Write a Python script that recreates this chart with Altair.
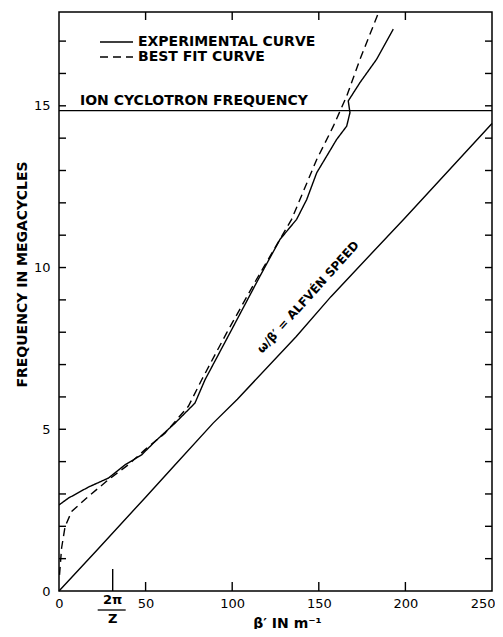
import altair as alt
import pandas as pd

# ---- data ----
SERIES = ["EXPERIMENTAL CURVE", "BEST FIT CURVE"]

EXP_X = [0, 5.4, 16.9, 28.5, 38.1, 47.7, 55.4, 67, 78.5, 84.3, 98.7, 116, 127.6,
         137.2, 143, 148.8, 160.3, 166.1, 168, 167, 173.8, 183.4, 193]
EXP_Y = [2.66, 2.87, 3.21, 3.49, 3.90, 4.21, 4.62, 5.19, 5.81, 6.53, 7.98, 9.73, 10.87,
         11.49, 12.1, 12.93, 13.96, 14.37, 14.79, 15.15, 15.72, 16.44, 17.37]

FIT_X = [0.3, 1.5, 3.5, 7.3, 16.9, 28.5, 40, 49.7, 61.2, 74.7, 82.4, 96.8, 114,
         134.3, 148.8, 158.4, 166.1, 173.8, 185.3, 187.5]
FIT_Y = [0.5, 1.33, 1.99, 2.46, 2.92, 3.44, 3.9, 4.37, 4.88, 5.71, 6.53, 7.98, 9.63,
         11.49, 13.34, 14.37, 15.3, 16.44, 17.99, 18.3]

ALF_X = [0, 22, 50, 66, 89, 103, 137, 157, 200, 250]
ALF_Y = [0, 1.27, 2.9, 3.84, 5.19, 5.93, 7.87, 9.1, 11.55, 14.45]

ION_FREQ = [14.85]
ION_LABEL = ["ION CYCLOTRON FREQUENCY"]
ALF_LABEL = ["ω/β′ = ALFVÉN SPEED"]
TWO_PI_OVER_Z = [31]

X_TICKS = [0, 50, 100, 150, 200, 250]
X_INNER_TICKS = [50, 100, 150, 200]
Y_TICKS = list(range(0, 18))
Y_LABELS = [0, 5, 10, 15]
X_DOMAIN = [0, 250]
Y_DOMAIN = [0, 17.9]
DASHES = [[1, 0], [8, 5]]

W, H = 433, 579
FONT = "DejaVu Sans"

curves = pd.DataFrame({
    "x": EXP_X + FIT_X,
    "y": EXP_Y + FIT_Y,
    "series": [SERIES[0]] * len(EXP_X) + [SERIES[1]] * len(FIT_X),
    "order": list(range(len(EXP_X))) + list(range(len(FIT_X))),
})
alf = pd.DataFrame({"x": ALF_X, "y": ALF_Y})
ion = pd.DataFrame({"y": ION_FREQ, "label": ION_LABEL})
alf_lab = pd.DataFrame({"label": ALF_LABEL})
tpz = pd.DataFrame({"x": TWO_PI_OVER_Z})
leg = pd.DataFrame({"series": SERIES})

xs = alt.Scale(domain=X_DOMAIN, nice=False, zero=False)
ys = alt.Scale(domain=Y_DOMAIN, nice=False, zero=False)
dash_scale = alt.Scale(domain=SERIES, range=DASHES)

X_AXIS = alt.Axis(
    orient="bottom", values=X_TICKS, ticks=False, tickSize=0, domain=False, grid=False,
    labelPadding=6, labelFontSize=13, labelFont=FONT, labelColor="black",
    labelFlush=False,
    labelAlign={"condition": {"test": "datum.value === 250", "value": "right"},
                "value": "center"},
    labelOffset={"condition": {"test": "datum.value === 250", "value": 3},
                 "value": 0},
    title="β′ IN m⁻¹", titleFont=FONT, titleFontSize=14, titleFontWeight="bold",
    titleX=228, titleY=32, titleBaseline="middle", titleAlign="center",
    titleColor="black")
Y_AXIS = alt.Axis(
    orient="left", values=Y_LABELS, ticks=False, tickSize=0, domain=False, grid=False,
    labelPadding=9, labelFontSize=13, labelFont=FONT, labelColor="black",
    labelFlush=False,
    title="FREQUENCY IN MEGACYCLES", titleFont=FONT, titleFontSize=14,
    titleFontWeight="bold", titleX=-37, titleY=262, titleAngle=270,
    titleAlign="center", titleBaseline="middle", titleColor="black")


def X(field="x:Q"):
    return alt.X(field, scale=xs, axis=X_AXIS)


def Y(field="y:Q"):
    return alt.Y(field, scale=ys, axis=Y_AXIS)


lines = alt.Chart(curves).mark_line(color="black", strokeWidth=1.4, clip=True).encode(
    x=X(), y=Y(),
    strokeDash=alt.StrokeDash("series:N", scale=dash_scale, legend=None),
    order="order:Q",
)

alfven = alt.Chart(alf).mark_line(color="black", strokeWidth=1.4).encode(x=X(), y=Y())

# inward ticks on all four sides, one small rule per tick value (placed by the scales)
tick_layers = []
for v in X_INNER_TICKS:
    d = pd.DataFrame({"x": [v]})
    tick_layers.append(alt.Chart(d).mark_rule(color="black", strokeWidth=1.4).encode(
        x=X(), y=alt.value(H), y2=alt.value(H - 9)))
    tick_layers.append(alt.Chart(d).mark_rule(color="black", strokeWidth=1.4).encode(
        x=X(), y=alt.value(0), y2=alt.value(8)))
for v in Y_TICKS[1:]:
    d = pd.DataFrame({"y": [v]})
    tick_layers.append(alt.Chart(d).mark_rule(color="black", strokeWidth=1.4).encode(
        y=Y(), x=alt.value(0), x2=alt.value(7)))
    tick_layers.append(alt.Chart(d).mark_rule(color="black", strokeWidth=1.4).encode(
        y=Y(), x=alt.value(W - 7), x2=alt.value(W)))

# legend drawn as annotation (solid / dashed key + labels)
leg_layers = []
for i, s in enumerate(SERIES):
    row = leg[leg["series"] == s]
    ypix = 30 + 15 * i
    leg_layers.append(
        alt.Chart(row).mark_rule(color="black", strokeWidth=1.4).encode(
            x=alt.value(41), x2=alt.value(74), y=alt.value(ypix),
            strokeDash=alt.StrokeDash("series:N", scale=dash_scale, legend=None)))
    leg_layers.append(
        alt.Chart(row).mark_text(align="left", baseline="middle", font=FONT,
                                 fontWeight="bold", fontSize=14, color="black").encode(
            x=alt.value(79), y=alt.value(ypix), text="series:N"))

ion_rule = alt.Chart(ion).mark_rule(color="black", strokeWidth=1.4).encode(y=Y())
ion_text = alt.Chart(ion).mark_text(
    align="left", baseline="bottom", dy=-3, font=FONT, fontWeight="bold",
    fontSize=14, color="black").encode(x=alt.value(21), y=Y(), text="label:N")

alf_text = alt.Chart(alf_lab).mark_text(
    align="center", baseline="middle", angle=312, font=FONT, fontWeight="bold",
    fontSize=12, color="black").encode(
    x=alt.value(249), y=alt.value(285), text="label:N"
)

tpz_tick = alt.Chart(tpz).mark_rule(color="black", strokeWidth=1.4).encode(
    x=X(), y=alt.value(H), y2=alt.value(H - 22)
)
tpz_num = alt.Chart(tpz).mark_text(font=FONT, fontWeight="bold", fontSize=13,
                                   color="black", baseline="middle").encode(
    x=X(), y=alt.value(H + 9), text=alt.value("2π")
)
tpz_bar = alt.Chart(tpz).mark_rule(color="black", strokeWidth=1.3, xOffset=-15, x2Offset=13).encode(
    x=X(), x2="x:Q", y=alt.value(H + 19)
)
tpz_den = alt.Chart(tpz).mark_text(font=FONT, fontWeight="bold", fontSize=13,
                                   color="black", baseline="middle").encode(
    x=X(), y=alt.value(H + 28), text=alt.value("Z")
)

chart = alt.layer(
    lines, alfven,
    *leg_layers,
    ion_rule, ion_text, alf_text, tpz_tick, tpz_num, tpz_bar, tpz_den,
    *tick_layers,
).properties(
    width=W, height=H,
    padding={"left": 51, "top": 4, "right": 3, "bottom": 38},
    autosize=alt.AutoSizeParams(type="none"),
    background="white",
).configure_view(stroke="black", strokeWidth=1.5)

chart.save("out.html", embed_options={"renderer": "svg", "actions": False})
